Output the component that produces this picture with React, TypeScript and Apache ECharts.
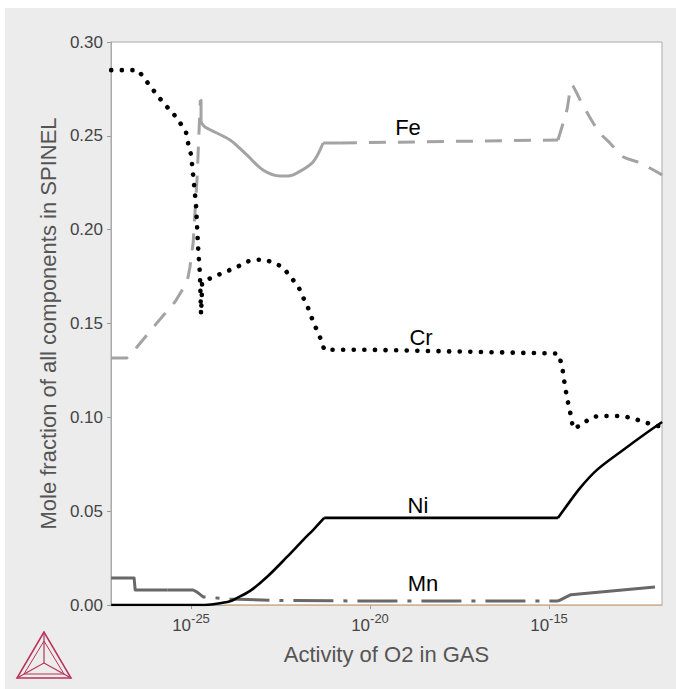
import React, { useEffect, useRef } from "react";
import * as echarts from "echarts";

// x values are log10(activity of O2)
const xTicks = [-25, -20, -15];
const yTicks = [0, 0.05, 0.1, 0.15, 0.2, 0.25, 0.3];

const crX = [-27.23, -26.48, -26.28, -25.92, -25.7, -25.5, -25.31, -25.14, -25.08, -25.0, -24.94, -24.86, -24.8, -24.75, -24.72, -24.7, -24.69, -24.47, -24.11, -23.72, -23.44, -23.16, -22.93, -22.65, -22.43, -22.23, -22.01, -21.87, -21.7, -21.59, -21.45, -21.34, -21.28, -20.0, -14.75, -14.64, -14.55, -14.47, -14.39, -14.33, -14.08, -13.85, -13.63, -13.35, -12.93, -12.6, -12.26, -11.96, -11.84];
const crY = [0.285, 0.285, 0.28, 0.271, 0.266, 0.262, 0.257, 0.252, 0.246, 0.24, 0.229, 0.213, 0.19, 0.176, 0.155, 0.165, 0.172, 0.174, 0.177, 0.18, 0.183, 0.184, 0.184, 0.182, 0.18, 0.175, 0.17, 0.164, 0.157, 0.151, 0.145, 0.14, 0.136, 0.136, 0.134, 0.128, 0.116, 0.108, 0.101, 0.094, 0.096, 0.0997, 0.1007, 0.1007, 0.1007, 0.0991, 0.097, 0.0954, 0.0949];

const feX = [-27.23, -26.79, -26.51, -26.01, -25.45, -25.11, -25.03, -24.94, -24.83, -24.74, -24.72, -24.72, -24.61, -23.91, -23.44, -22.99, -22.51, -22.29, -22.04, -21.59, -21.31, -20.84, -14.75, -14.5, -14.36, -14.13, -13.85, -13.58, -13.3, -12.93, -12.46, -11.84];
const feY = [0.1316, 0.1316, 0.1375, 0.149, 0.1615, 0.172, 0.18, 0.193, 0.2276, 0.269, 0.269, 0.2574, 0.2547, 0.2478, 0.2398, 0.2318, 0.2286, 0.2286, 0.2302, 0.2361, 0.2462, 0.2462, 0.2478, 0.2638, 0.2771, 0.2691, 0.2595, 0.2515, 0.2462, 0.2388, 0.2356, 0.2292];

const niX = [-27.23, -24.61, -24.33, -23.91, -23.72, -23.35, -22.88, -22.32, -21.87, -21.54, -21.28, -14.75, -14.55, -14.13, -13.66, -12.93, -12.32, -11.84];
const niY = [0, 0, 0.0005, 0.002, 0.0037, 0.0075, 0.0149, 0.0256, 0.0346, 0.041, 0.0464, 0.0464, 0.0517, 0.0624, 0.072, 0.0826, 0.0911, 0.0975];

const mnX = [-27.23, -26.59, -26.56, -25.65, -24.94, -24.83, -24.66, -23.91, -22.51, -19.72, -14.75, -14.39, -12.04];
const mnY = [0.0144, 0.0144, 0.008, 0.008, 0.008, 0.0069, 0.0043, 0.0032, 0.0024, 0.0021, 0.0021, 0.0055, 0.0096];

const otherX = [-24.05, -11.84];
const otherY = [0, 0];

const FONT = "'Liberation Sans', Arial, sans-serif";

function seg(name: string, xs: number[], ys: number[], from: number, to: number, color: string, width: number, type: any, opts: any = {}) {
  const data = [];
  for (let i = from; i <= to; i++) data.push([xs[i], ys[i]]);
  return {
    type: "line",
    name,
    data,
    symbol: "none",
    showSymbol: false,
    silent: true,
    z: opts.z ?? 3,
    smooth: opts.smooth ?? false,
    lineStyle: { color, width, type, cap: opts.cap ?? "butt", join: "round" },
  };
}

const OX = 5;
const OY = 8;

export default function App() {
  const ref = useRef<HTMLDivElement>(null);
  useEffect(() => {
    const chart = echarts.init(ref.current!, null, { renderer: "svg" });
    const logoColor = "#b8325a";
    const A = [39, 624], B = [12, 670], C = [66, 670], P = [39, 655];
    const a2 = [39, 633], b2 = [19, 666], c2 = [59, 666];
    const FE = "#a3a3a3";
    const MN = "#686868";
    const labelStyle = (text: string) => ({ text, fontSize: 22, fill: "#000", fontFamily: FONT, align: "center", verticalAlign: "middle" });
    chart.setOption({
      animation: false,
      backgroundColor: "#ececec",
      textStyle: { fontFamily: FONT },
      grid: {
        left: 106,
        top: 34,
        right: 14,
        bottom: 84,
        show: true,
        backgroundColor: "#ffffff",
        borderColor: "#aaaaaa",
        borderWidth: 1,
      },
      xAxis: {
        type: "value",
        min: -27.235,
        max: -11.844,
        name: "Activity of O2 in GAS",
        nameLocation: "middle",
        nameGap: 38,
        nameTextStyle: { fontSize: 22, color: "#555555", fontFamily: FONT },
        axisLine: { show: true, lineStyle: { color: "#aaaaaa", width: 1 } },
        axisTick: { show: true, length: 4, customValues: xTicks, lineStyle: { color: "#999999" } },
        splitLine: { show: false },
        axisLabel: {
          customValues: xTicks,
          margin: 7,
          formatter: (v: number) => `{b|10}{s|${v}}`,
          rich: {
            b: { fontSize: 17, color: "#444444", fontFamily: FONT, lineHeight: 22, verticalAlign: "bottom" },
            s: { fontSize: 13, color: "#444444", fontFamily: FONT, lineHeight: 22, verticalAlign: "top" },
          },
        },
      },
      yAxis: {
        type: "value",
        min: yTicks[0],
        max: yTicks[yTicks.length - 1],
        interval: 0.05,
        name: "Mole fraction of all components in SPINEL",
        nameLocation: "middle",
        nameGap: 49,
        nameTextStyle: { fontSize: 22, color: "#555555", fontFamily: FONT },
        axisLine: { show: true, lineStyle: { color: "#aaaaaa", width: 1 } },
        axisTick: { show: true, length: 4, lineStyle: { color: "#999999" } },
        splitLine: { show: false },
        axisLabel: {
          fontSize: 17,
          color: "#444444",
          fontFamily: FONT,
          margin: 8,
          formatter: (v: number) => v.toFixed(2),
        },
      },
      series: [
        seg("Other", otherX, otherY, 0, 1, "#e2bf95", 1.5, "solid", { z: 2 }),
        seg("Mn", mnX, mnY, 0, 3, MN, 3, "solid"),
        seg("Mn", mnX, mnY, 3, 10, MN, 3, [40, 10, 4, 10]),
        seg("Mn", mnX, mnY, 10, 12, MN, 3, "solid"),
        seg("Fe", feX, feY, 0, 9, FE, 3, [17, 12]),
        seg("Fe", feX, feY, 9, 11, FE, 3, "solid"),
        seg("Fe", feX, feY, 11, 20, FE, 3, "solid", { smooth: 0.3 }),
        seg("Fe", feX, feY, 20, 21, FE, 3, "solid"),
        seg("Fe", feX, feY, 21, 22, FE, 3, [17, 12]),
        seg("Fe", feX, feY, 22, 31, FE, 3, [17, 12], { smooth: 0.25 }),
        seg("Ni", niX, niY, 0, 1, "#000000", 2.6, "solid", { z: 4 }),
        seg("Ni", niX, niY, 1, 10, "#000000", 2.6, "solid", { z: 4, smooth: 0.3 }),
        seg("Ni", niX, niY, 10, 11, "#000000", 2.6, "solid", { z: 4 }),
        seg("Ni", niX, niY, 11, 17, "#000000", 2.6, "solid", { z: 4, smooth: 0.3 }),
        seg("Cr", crX, crY, 0, crX.length - 1, "#000000", 4.6, [0.1, 10.5], { z: 5, cap: "round" }),
      ],
      graphic: [
        { type: "text", x: 408 - OX, y: 127 - OY, style: labelStyle("Fe") },
        { type: "text", x: 421 - OX, y: 337 - OY, style: labelStyle("Cr") },
        { type: "text", x: 418 - OX, y: 505 - OY, style: labelStyle("Ni") },
        { type: "text", x: 423 - OX, y: 583 - OY, style: labelStyle("Mn") },
        { type: "polygon", shape: { points: [A, B, C] }, style: { fill: "none", stroke: logoColor, lineWidth: 1.5 } },
        { type: "polygon", shape: { points: [a2, b2, c2] }, style: { fill: "none", stroke: logoColor, lineWidth: 1 } },
        { type: "polyline", shape: { points: [A, P, B] }, style: { fill: "none", stroke: logoColor, lineWidth: 1.2 } },
        { type: "line", shape: { x1: P[0], y1: P[1], x2: C[0], y2: C[1] }, style: { stroke: logoColor, lineWidth: 1.2 } },
      ],
    });
    return () => chart.dispose();
  }, []);
  return <div ref={ref} style={{ position: "absolute", left: OX, top: OY, width: 671, height: 681 }} />;
}
